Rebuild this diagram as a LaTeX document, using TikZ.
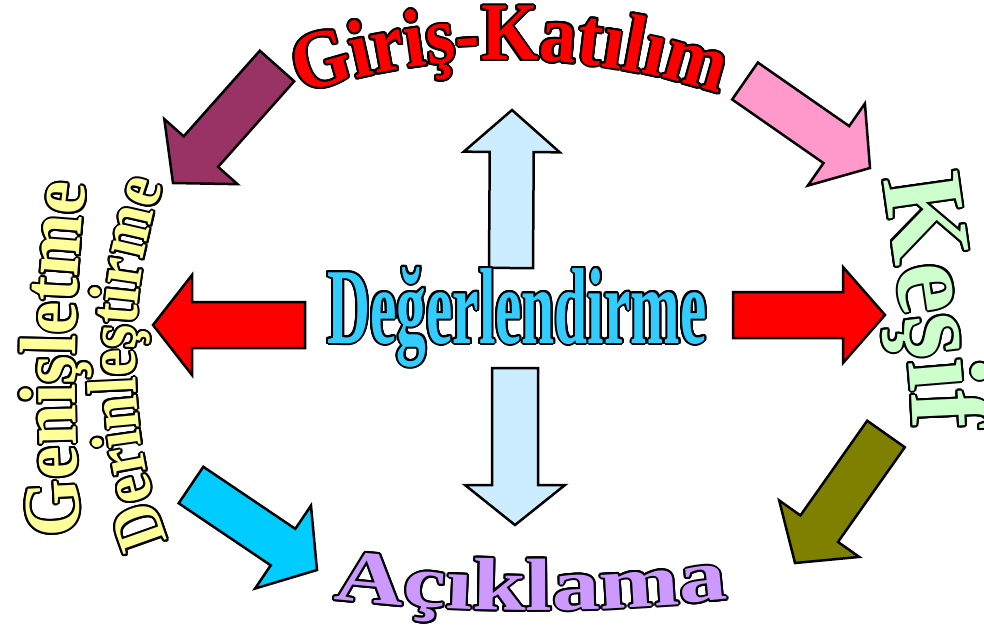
\documentclass[tikz,border=0pt]{standalone}
\usepackage{fontspec}
\usepackage{contour}
\usetikzlibrary{decorations.text,calc}
\newfontfamily\fGiris{Liberation Serif Bold}[FakeStretch=0.90]
\newfontfamily\fGenis{Liberation Serif Bold}[FakeStretch=0.92]
\newfontfamily\fDerin{Liberation Serif Bold}[FakeStretch=0.88]
\newfontfamily\fKesif{Liberation Serif Bold}
\newfontfamily\fDeger{Liberation Serif Bold}[FakeStretch=0.55]
\newfontfamily\fAcik{Liberation Serif Bold}[FakeStretch=1.30]
\definecolor{cPurple}{HTML}{993366}
\definecolor{cPink}{HTML}{FF99CC}
\definecolor{cOlive}{HTML}{808000}
\definecolor{cCyan}{HTML}{00CCFF}
\definecolor{cRed}{HTML}{FF0000}
\definecolor{cLight}{HTML}{CCECFF}
\definecolor{tRed}{HTML}{FF0000}
\definecolor{tYellow}{HTML}{FFFF99}
\definecolor{tGreen}{HTML}{CCFFCC}
\definecolor{tBlue}{HTML}{33CCFF}
\definecolor{tLilac}{HTML}{CC99FF}
\contourlength{2pt}
\contournumber{16}
\tikzset{blockline/.style={draw=black, line width=2.5pt, line join=miter}}
% #1 tail, #2 tip, #3 half shaft, #4 half head, #5 head length, #6 colour
\newcommand\blockarrow[6]{%
  \coordinate (#2n) at ($(#2)!#5!(#1)$);
  \draw[blockline, fill=#6] ($(#1)!#3!90:(#2)$) -- ($(#2n)!#3!90:(#2)$) -- ($(#2n)!#4!90:(#2)$) -- (#2)
    -- ($(#2n)!#4!-90:(#2)$) -- ($(#2n)!#3!-90:(#2)$) -- ($(#1)!#3!-90:(#2)$) -- cycle;
}
% #1 path, #2 font, #3 text, #4 colour
\newcommand\outlinedtext[4]{%
  \foreach \ang in {0,22.5,...,337.5}{%
    \path[shift={(\ang:2pt)}, decorate, decoration={text along path, text align=center, text color=black, text={|#2|#3}}] #1;
  }
  \path[decorate, decoration={text along path, text align=center, text color=#4, text={|#2|#3}}] #1;
}
\begin{document}
\begin{tikzpicture}[x=1pt,y=1pt]
\useasboundingbox (0,0) rectangle (984,-630);
\fill[white] (0,0) rectangle (984,-630);

% arrow end points
\coordinate (pa) at (277,-66);  \coordinate (pb) at (173,-183);
\coordinate (ka) at (745,-81);  \coordinate (kb) at (870,-168);
\coordinate (oa) at (886,-434); \coordinate (ob) at (795,-563);
\coordinate (ca) at (191,-485); \coordinate (cb) at (317,-570);
\coordinate (la) at (305,-325); \coordinate (lb) at (153,-325);
\coordinate (ra) at (733,-315); \coordinate (rb) at (885,-315);
\coordinate (ua) at (511,-268); \coordinate (ub) at (512,-110);
\coordinate (da) at (515,-368); \coordinate (db) at (515,-525);

\blockarrow{pa}{pb}{23pt}{49pt}{42pt}{cPurple}
\blockarrow{ka}{kb}{22.5pt}{50pt}{41pt}{cPink}
\blockarrow{oa}{ob}{23pt}{49pt}{42pt}{cOlive}
\blockarrow{ca}{cb}{22pt}{50pt}{41pt}{cCyan}
\blockarrow{la}{lb}{23pt}{50pt}{39pt}{cRed}
\blockarrow{ra}{rb}{23pt}{48pt}{42pt}{cRed}
\blockarrow{ua}{ub}{22pt}{48pt}{42pt}{cLight}
\blockarrow{da}{db}{23pt}{50pt}{40pt}{cLight}

% texts
\outlinedtext{(180,-148.4) arc[start angle=120, end angle=60, radius=660]}{\fGiris\fontsize{82}{82}\selectfont}{Giriş-Katılım}{tRed}
\outlinedtext{(218.4,-582.7) arc[start angle=-100, end angle=-80, radius=1800]}{\fAcik\fontsize{74}{74}\selectfont}{Açıklama}{tLilac}
\outlinedtext{(82,-560) .. controls (72,-420) and (72,-280) .. (90,-160)}{\fGenis\fontsize{80}{80}\selectfont}{Genişletme}{tYellow}
\outlinedtext{(178,-560) .. controls (122,-455) and (122,-275) .. (172,-165)}{\fDerin\fontsize{70}{70}\selectfont}{Derinleştirme}{tYellow}
\outlinedtext{(880,-150) .. controls (896,-290) and (913,-340) .. (913,-460)}{\fKesif\fontsize{114}{114}\selectfont}{Keşif}{tGreen}

\node[anchor=base, inner sep=0pt] (deg) at (517,-343) {\fDeger\fontsize{108}{108}\selectfont\contour{black}{\textcolor{tBlue}{Değerlendirme}}};
\end{tikzpicture}
\end{document}
